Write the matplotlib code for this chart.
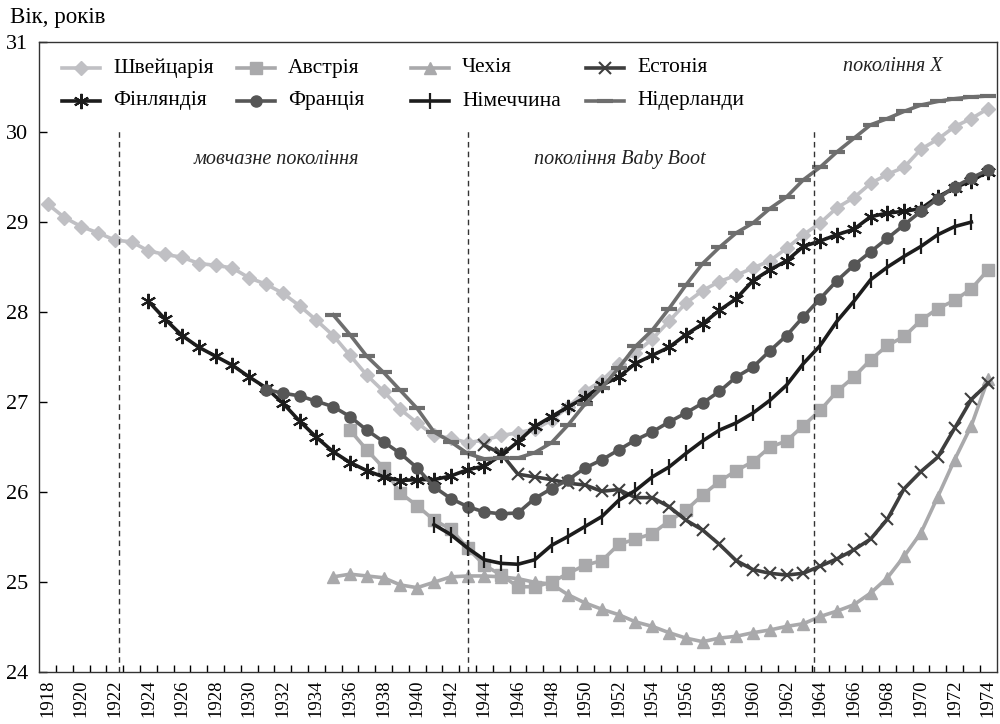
import matplotlib
matplotlib.use("Agg")
import matplotlib.pyplot as plt
import numpy as np
from matplotlib.lines import Line2D

plt.rcParams['font.family'] = ['Liberation Serif', 'DejaVu Serif']

# ---------------- data ----------------
sw_years = list(range(1918, 1975))
sw_vals = [29.20, 29.05, 28.95, 28.88, 28.80, 28.78, 28.68, 28.64, 28.61, 28.54, 28.52, 28.49,
           28.38, 28.31, 28.21, 28.07, 27.91, 27.74, 27.52, 27.30, 27.12, 26.92, 26.77, 26.63,
           26.60, 26.55, 26.58, 26.63, 26.66, 26.70, 26.80, 26.95, 27.12, 27.24, 27.42, 27.55,
           27.70, 27.90, 28.10, 28.24, 28.34, 28.41, 28.49, 28.57, 28.71, 28.86, 28.99, 29.16,
           29.27, 29.43, 29.53, 29.61, 29.81, 29.92, 30.06, 30.15, 30.26]

au_years = list(range(1936, 1975))
au_vals = [26.69, 26.47, 26.27, 25.99, 25.85, 25.69, 25.59, 25.38, 25.19, 25.08, 24.95, 24.95,
           25.00, 25.10, 25.19, 25.24, 25.42, 25.48, 25.54, 25.68, 25.80, 25.97, 26.12, 26.24,
           26.34, 26.50, 26.57, 26.74, 26.91, 27.12, 27.28, 27.47, 27.63, 27.73, 27.91, 28.04,
           28.13, 28.26, 28.47]

cz_years = list(range(1935, 1975))
cz_vals = [25.06, 25.09, 25.07, 25.05, 24.97, 24.94, 25.00, 25.06, 25.07, 25.07, 25.06, 25.04,
           25.00, 24.98, 24.86, 24.77, 24.70, 24.64, 24.56, 24.51, 24.44, 24.38, 24.34, 24.38,
           24.40, 24.44, 24.47, 24.51, 24.54, 24.62, 24.68, 24.75, 24.88, 25.05, 25.29, 25.55,
           25.95, 26.36, 26.74, 27.26]

ee_years = list(range(1944, 1975))
ee_vals = [26.52, 26.43, 26.20, 26.17, 26.14, 26.10, 26.08, 26.01, 26.03, 25.94, 25.94, 25.84,
           25.69, 25.58, 25.42, 25.24, 25.14, 25.10, 25.08, 25.10, 25.18, 25.26, 25.36, 25.48,
           25.70, 26.04, 26.23, 26.39, 26.71, 27.03, 27.21]

fi_years = list(range(1924, 1975))
fi_vals = [28.12, 27.92, 27.74, 27.61, 27.51, 27.41, 27.28, 27.16, 26.99, 26.79, 26.61, 26.45,
           26.33, 26.24, 26.17, 26.13, 26.14, 26.14, 26.18, 26.25, 26.29, 26.41, 26.56, 26.73,
           26.84, 26.95, 27.05, 27.19, 27.28, 27.43, 27.52, 27.61, 27.75, 27.87, 28.02, 28.15,
           28.35, 28.47, 28.57, 28.73, 28.79, 28.86, 28.92, 29.06, 29.10, 29.12, 29.15, 29.28,
           29.38, 29.46, 29.56]

fr_years = list(range(1931, 1975))
fr_vals = [27.14, 27.10, 27.07, 27.01, 26.95, 26.84, 26.69, 26.56, 26.43, 26.27, 26.06, 25.93,
           25.84, 25.78, 25.76, 25.77, 25.93, 26.04, 26.14, 26.27, 26.36, 26.47, 26.58, 26.67,
           26.78, 26.88, 26.99, 27.12, 27.28, 27.39, 27.57, 27.74, 27.95, 28.15, 28.35, 28.52,
           28.67, 28.82, 28.97, 29.12, 29.26, 29.39, 29.49, 29.58]

de_years = list(range(1941, 1974))
de_vals = [25.64, 25.53, 25.38, 25.25, 25.21, 25.20, 25.25, 25.41, 25.51, 25.62, 25.73, 25.91,
           26.02, 26.17, 26.28, 26.43, 26.57, 26.69, 26.77, 26.88, 27.02, 27.19, 27.43, 27.63,
           27.90, 28.12, 28.36, 28.50, 28.62, 28.73, 28.86, 28.95, 29.00]

nl_years = list(range(1935, 1975))
nl_vals = [27.97, 27.75, 27.51, 27.33, 27.13, 26.93, 26.67, 26.56, 26.43, 26.37, 26.38, 26.38,
           26.44, 26.55, 26.75, 26.98, 27.16, 27.38, 27.62, 27.80, 28.04, 28.30, 28.54, 28.72,
           28.88, 28.99, 29.15, 29.28, 29.47, 29.61, 29.78, 29.93, 30.08, 30.15, 30.23, 30.30,
           30.34, 30.37, 30.39, 30.40]

labels = ['Швейцарія', 'Австрія', 'Чехія', 'Естонія',
          'Фінляндія', 'Франція', 'Німеччина', 'Нідерланди']

generation_bounds = [1922.25, 1943.0, 1963.6]
generation_names = ['мовчазне покоління', 'покоління Baby Boot', 'покоління X']
generation_label_x = [1931.6, 1952.1, 1968.3]
generation_label_y = [29.7, 29.7, 30.73]

# ---------------- figure ----------------
W, H = 1000, 724
fig = plt.figure(figsize=(10, 7.24), dpi=100)
ax = fig.add_axes([0.0393, 0.0714, 0.9581, 0.8706])

lw = 2.6
styles = [
    dict(color='#c0c0c4', marker='D', ms=7, mec='#c0c0c4'),
    dict(color='#a9a9ab', marker='s', ms=8, mec='#a9a9ab'),
    dict(color='#a9a9ab', marker='^', ms=8, mec='#a9a9ab'),
    dict(color='#3e3e3e', marker='x', ms=9, mew=1.5, mec='#3e3e3e'),
    dict(color='#1c1c1c', marker=(6, 2, 0), ms=11, mew=1.5, mec='#1c1c1c'),
    dict(color='#565656', marker='o', ms=8, mec='#565656'),
    dict(color='#1c1c1c', marker='|', ms=11, mew=1.6, mec='#1c1c1c'),
    dict(color='#6e6e6e', marker='_', ms=12, mew=3, mec='#6e6e6e'),
]
data = [(sw_years, sw_vals), (au_years, au_vals), (cz_years, cz_vals), (ee_years, ee_vals),
        (fi_years, fi_vals), (fr_years, fr_vals), (de_years, de_vals), (nl_years, nl_vals)]

for (yrs, vals), st, lab in zip(data, styles, labels):
    ax.plot(yrs, vals, lw=lw, label=lab, solid_joinstyle='round', **st)

for b in generation_bounds:
    ax.plot([b, b], [24, 30.02], ls=(0, (4, 3)), color='#333333', lw=1.0)

for nm, gx, gy in zip(generation_names, generation_label_x, generation_label_y):
    ax.text(gx, gy, nm, style='italic', fontsize=14.5, ha='center', va='center', color='#222222')

ax.set_xlim(1917.5, 1974.55)
ax.set_ylim(24, 31)

ax.set_yticks(range(24, 32))
ax.tick_params(axis='y', direction='in', length=6, labelsize=16, pad=8, width=1)
ax.set_xticks(range(1918, 1975, 2))
ax.set_xticklabels([str(y) for y in range(1918, 1975, 2)], rotation=90, fontsize=13.5)
ax.set_xticks(np.arange(1918.5, 1974.5, 1), minor=True)
ax.tick_params(axis='x', which='major', length=0, pad=5)
ax.tick_params(axis='x', which='minor', direction='in', length=5, width=1)

for sp in ax.spines.values():
    sp.set_color('#333333')
    sp.set_linewidth(1.0)

fig.text(10 / W, 1 - 17 / H, 'Вік, років', fontsize=16.5, ha='left', va='center')

# manual legend (fixed-width columns), in pixel positions
col_x = [62, 237, 411, 586]
row_y = [68, 101]
for i, (lab, st) in enumerate(zip(labels, styles)):
    r, c = divmod(i, 4)
    x0 = col_x[c]
    y0 = row_y[r]
    fy = 1 - y0 / H
    ln = Line2D([x0 / W, (x0 + 38) / W], [fy, fy], lw=lw, transform=fig.transFigure,
                color=st['color'])
    fig.add_artist(ln)
    mk = {k: v for k, v in st.items() if k != 'color'}
    mk_line = Line2D([(x0 + 19) / W], [fy], lw=0, transform=fig.transFigure,
                     color=st['color'], **mk)
    fig.add_artist(mk_line)
    fig.text((x0 + 51) / W, fy, lab, fontsize=15.5, ha='left', va='center')

fig.savefig('out.png', dpi=100)
